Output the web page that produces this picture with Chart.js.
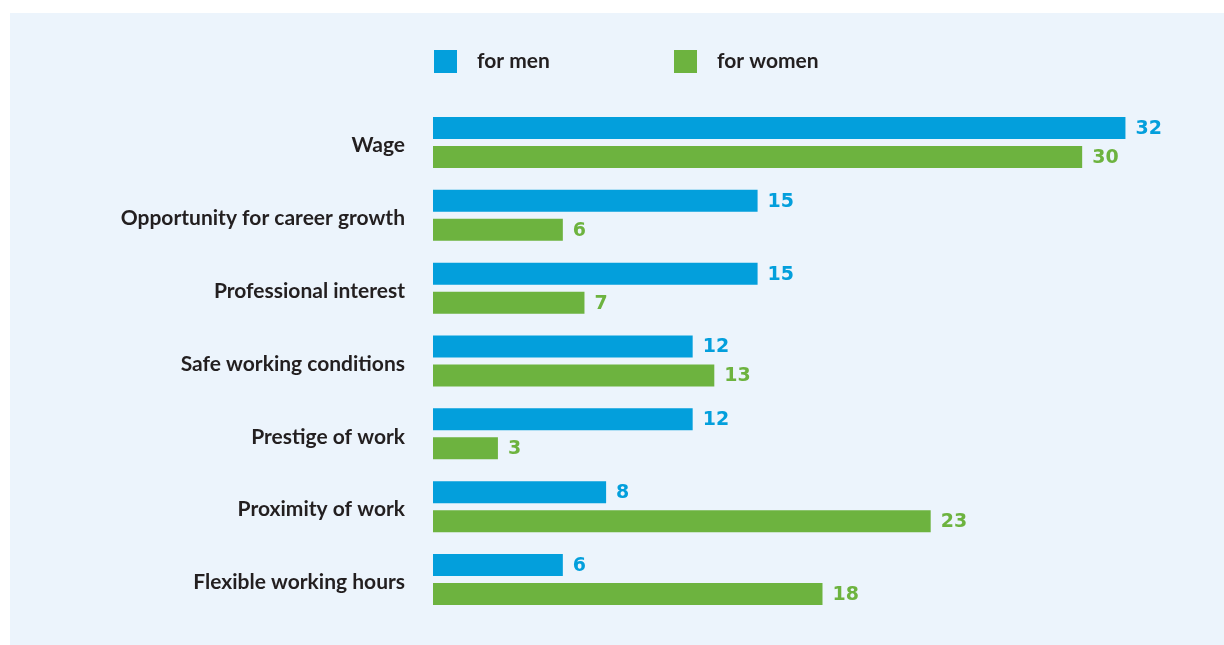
<!DOCTYPE html>
<html>
<head>
<meta charset="utf-8">
<script src="https://cdn.jsdelivr.net/npm/chart.js@4/dist/chart.umd.min.js"></script>
<style>
  html, body { margin: 0; padding: 0; background: #fff; }
  #wrap { position: relative; width: 1224px; height: 645px; }
  #panel { position: absolute; left: 10px; top: 13px; right: 0; bottom: 0; background: #ecf4fc; }
  canvas { position: absolute; left: 0; top: 0; }
</style>
</head>
<body>
<div id="wrap">
  <div id="panel"></div>
  <canvas id="chart" width="1224" height="645"></canvas>
</div>
<script>
const categories = [
  'Wage',
  'Opportunity for career growth',
  'Professional interest',
  'Safe working conditions',
  'Prestige of work',
  'Proximity of work',
  'Flexible working hours'
];
const menValues = [32, 15, 15, 12, 12, 8, 6];
const womenValues = [30, 6, 7, 13, 3, 23, 18];

const BLUE = '#039fdc';
const GREEN = '#6db33f';
const TEXT = '#231f20';
const labelFont = 'Lato, "Noto Sans", sans-serif';
const valueFont = '"DejaVu Sans", sans-serif';

// value labels at bar ends + legend on top
const extras = {
  id: 'extras',
  afterDatasetsDraw(chart) {
    const ctx = chart.ctx;
    ctx.save();
    ctx.font = 'bold 19px ' + valueFont;
    ctx.textBaseline = 'middle';
    ctx.textAlign = 'left';
    chart.data.datasets.forEach((ds, di) => {
      const meta = chart.getDatasetMeta(di);
      ctx.fillStyle = ds.backgroundColor;
      meta.data.forEach((bar, i) => {
        ctx.fillText(String(ds.data[i]), bar.x + 10, bar.y + 1);
      });
    });

    // legend
    const legendX = [434, 674];
    ctx.font = 'bold 21px ' + labelFont;
    chart.data.datasets.forEach((ds, di) => {
      const x = legendX[di];
      ctx.fillStyle = ds.backgroundColor;
      ctx.fillRect(x, 50, 23, 23);
      ctx.fillStyle = TEXT;
      ctx.fillText(ds.label, x + 43, 61);
    });
    ctx.restore();
  }
};

new Chart(document.getElementById('chart'), {
  type: 'bar',
  data: {
    labels: categories,
    datasets: [
      { label: 'for men', data: menValues, backgroundColor: BLUE },
      { label: 'for women', data: womenValues, backgroundColor: GREEN }
    ]
  },
  options: {
    indexAxis: 'y',
    responsive: false,
    animation: false,
    layout: { padding: { left: 0, right: 12, top: 106, bottom: 29 } },
    datasets: {
      bar: { categoryPercentage: 0.796, barPercentage: 0.759 }
    },
    plugins: {
      legend: { display: false },
      tooltip: { enabled: false }
    },
    scales: {
      x: { display: false, min: 0, max: 36 },
      y: {
        grid: { display: false, drawTicks: false },
        border: { display: false },
        afterFit(s) {
          s.width = 433;
          s.paddingTop = 0;
          s.paddingBottom = 0;
        },
        ticks: {
          padding: 28,
          labelOffset: 3,
          color: TEXT,
          font: { family: labelFont, weight: 'bold', size: 21 }
        }
      }
    }
  },
  plugins: [extras]
});
</script>
</body>
</html>
